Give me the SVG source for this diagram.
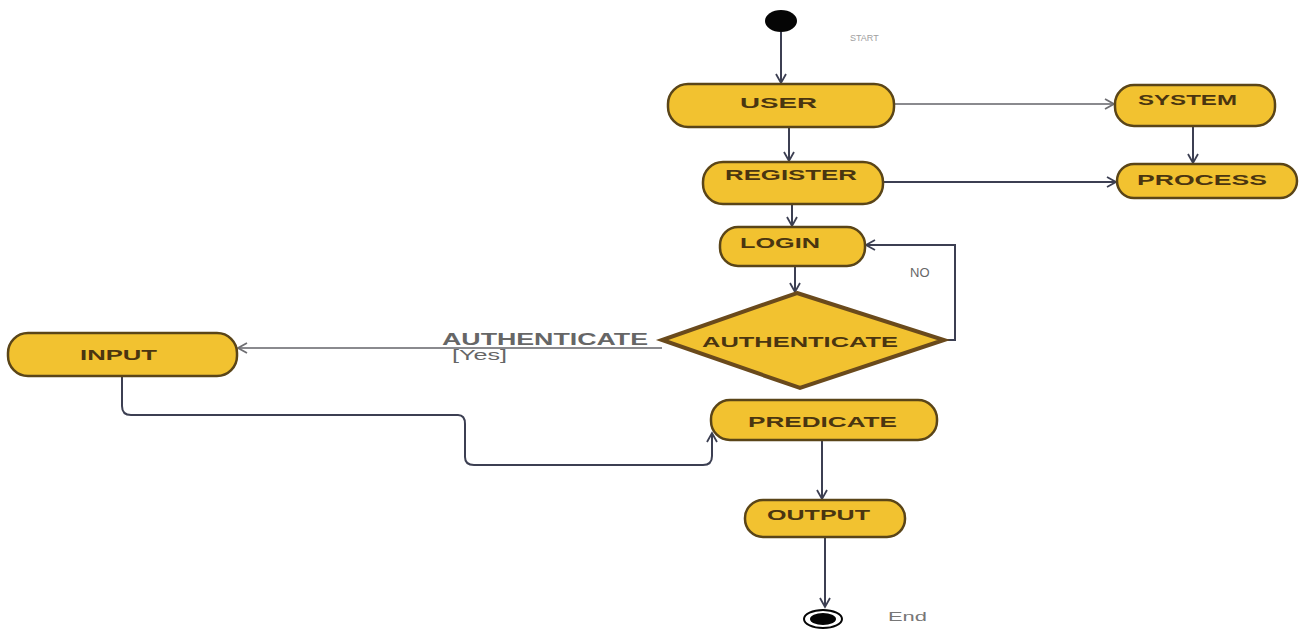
<svg xmlns="http://www.w3.org/2000/svg" width="1304" height="633" viewBox="0 0 1304 633">
  <defs>
    <marker id="open" markerWidth="14" markerHeight="14" refX="11" refY="7" orient="auto" markerUnits="userSpaceOnUse">
      <path d="M2,2 L11,7 L2,12" fill="none" stroke="#3c3f52" stroke-width="1.8"/>
    </marker>
    <marker id="openGray" markerWidth="14" markerHeight="14" refX="11" refY="7" orient="auto" markerUnits="userSpaceOnUse">
      <path d="M2,2 L11,7 L2,12" fill="none" stroke="#6e6e72" stroke-width="1.8"/>
    </marker>
  </defs>
  <style>
    .act { fill: #f2c230; stroke: #5a4518; stroke-width: 2.5; }
    .lbl { font-family: "Liberation Sans", Arial, sans-serif; font-size: 14px; font-weight: bold; fill: #4a3510; }
    .edge { fill: none; stroke: #3c3f52; stroke-width: 2; }
    .edgeGray { fill: none; stroke: #8a8a8e; stroke-width: 2; }
    .note { font-family: "Liberation Sans", Arial, sans-serif; fill: #666; }
  </style>
  <rect width="1304" height="633" fill="#ffffff"/>

  <!-- connectors -->
  <g id="connectors">
    <line class="edge" x1="781" y1="32" x2="781" y2="83" marker-end="url(#open)"/>
    <line class="edgeGray" x1="894" y1="104" x2="1114" y2="104" marker-end="url(#openGray)"/>
    <line class="edge" x1="1193" y1="126" x2="1193" y2="163" marker-end="url(#open)"/>
    <line class="edge" x1="789" y1="127" x2="789" y2="161" marker-end="url(#open)"/>
    <line class="edge" x1="883" y1="182" x2="1116" y2="182" marker-end="url(#open)"/>
    <line class="edge" x1="792" y1="204" x2="792" y2="226" marker-end="url(#open)"/>
    <line class="edge" x1="795" y1="266" x2="795" y2="292" marker-end="url(#open)"/>
    <path class="edge" d="M944,340 L955,340 L955,245 L866,245" marker-end="url(#open)"/>
    <text class="note" x="910" y="277" font-size="13">NO</text>
    <line class="edgeGray" x1="662" y1="348" x2="238" y2="348" marker-end="url(#openGray)"/>
    <text class="note" x="442" y="345" font-size="16" font-weight="bold" textLength="206" lengthAdjust="spacingAndGlyphs">AUTHENTICATE</text>
    <text class="note" x="452" y="360" font-size="14" textLength="55" lengthAdjust="spacingAndGlyphs">[Yes]</text>
    <path class="edge" d="M122,376 L122,406 Q122,415 131,415 L458,415 Q465,415 465,424 L465,457 Q465,465 474,465 L703,465 Q712,465 712,456 L712,433" marker-end="url(#open)"/>
    <line class="edge" x1="822" y1="440" x2="822" y2="499" marker-end="url(#open)"/>
    <line class="edge" x1="825" y1="537" x2="825" y2="607" marker-end="url(#open)"/>
  </g>

  <!-- initial node -->
  <g id="start">
    <ellipse cx="781" cy="21" rx="16" ry="11" fill="#050505"/>
    <text x="850" y="41" font-family="Liberation Sans, Arial, sans-serif" font-size="9" fill="#a0a0a0">START</text>
  </g>

  <g id="user">
    <rect class="act" x="668" y="84" width="226" height="43" rx="20"/>
    <text class="lbl" x="740" y="108" textLength="77" lengthAdjust="spacingAndGlyphs">USER</text>
  </g>

  <g id="system">
    <rect class="act" x="1115" y="85" width="160" height="41" rx="19"/>
    <text class="lbl" x="1138" y="105" textLength="99" lengthAdjust="spacingAndGlyphs">SYSTEM</text>
  </g>

  <g id="register">
    <rect class="act" x="703" y="162" width="180" height="42" rx="20"/>
    <text class="lbl" x="725" y="180" textLength="132" lengthAdjust="spacingAndGlyphs">REGISTER</text>
  </g>

  <g id="process">
    <rect class="act" x="1117" y="164" width="180" height="34" rx="17"/>
    <text class="lbl" x="1137" y="185" textLength="130" lengthAdjust="spacingAndGlyphs">PROCESS</text>
  </g>

  <g id="login">
    <rect class="act" x="720" y="227" width="145" height="39" rx="18"/>
    <text class="lbl" x="740" y="248" textLength="80" lengthAdjust="spacingAndGlyphs">LOGIN</text>
  </g>

  <g id="authenticate">
    <polygon points="797,293 944,340 800,388 662,340" fill="#f2c230" stroke="#6a4a1c" stroke-width="4"/>
    <text class="lbl" x="702" y="347" textLength="196" lengthAdjust="spacingAndGlyphs">AUTHENTICATE</text>
  </g>

  <g id="input">
    <rect class="act" x="8" y="333" width="229" height="43" rx="20"/>
    <text class="lbl" x="80" y="360" textLength="77" lengthAdjust="spacingAndGlyphs">INPUT</text>
  </g>

  <g id="predicate">
    <rect class="act" x="711" y="400" width="226" height="40" rx="19"/>
    <text class="lbl" x="748" y="427" textLength="149" lengthAdjust="spacingAndGlyphs">PREDICATE</text>
  </g>

  <g id="output">
    <rect class="act" x="745" y="500" width="160" height="37" rx="18"/>
    <text class="lbl" x="767" y="520" textLength="103" lengthAdjust="spacingAndGlyphs">OUTPUT</text>
  </g>

  <!-- final node -->
  <g id="end">
    <ellipse cx="823" cy="619" rx="19" ry="9" fill="none" stroke="#050505" stroke-width="2"/>
    <ellipse cx="823" cy="619" rx="13" ry="6" fill="#050505"/>
    <text x="888" y="621" font-family="Liberation Sans, Arial, sans-serif" font-size="12" fill="#777" textLength="39" lengthAdjust="spacingAndGlyphs">End</text>
  </g>
</svg>
